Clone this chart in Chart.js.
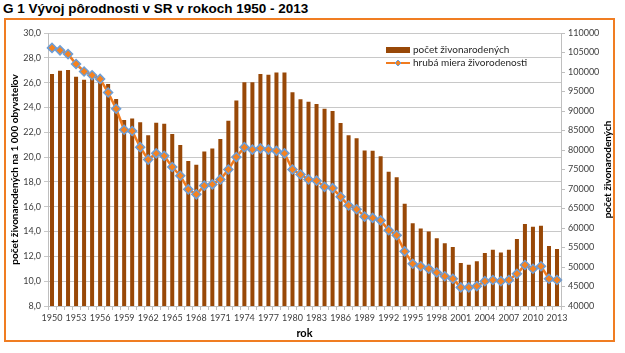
<!DOCTYPE html>
<html>
<head>
<meta charset="utf-8">
<script src="https://cdn.jsdelivr.net/npm/chart.js@4.4.1/dist/chart.umd.min.js"></script>
<style>
  html, body { margin: 0; padding: 0; background: #fff; }
  #page { position: relative; width: 625px; height: 353px; overflow: hidden; }
  #title { position: absolute; left: 3px; top: 1px; font: bold 13.5px 'Liberation Sans', Arial, sans-serif; color: #000; white-space: nowrap; }
  #frame { position: absolute; left: 4px; top: 18px; width: 607px; height: 320px; border: 2px solid #f07d22; }
  #wrap { position: absolute; left: 0; top: 0; width: 625px; height: 353px; }
</style>
</head>
<body>
<div id="page">
  <div id="title">G 1 Vývoj pôrodnosti v SR v rokoch 1950 - 2013</div>
  <div id="frame"></div>
  <div id="wrap"><canvas id="chart"></canvas></div>
</div>
<script>
const years = [
  1950, 1951, 1952, 1953, 1954, 1955, 1956, 1957, 1958, 1959,
  1960, 1961, 1962, 1963, 1964, 1965, 1966, 1967, 1968, 1969,
  1970, 1971, 1972, 1973, 1974, 1975, 1976, 1977, 1978, 1979,
  1980, 1981, 1982, 1983, 1984, 1985, 1986, 1987, 1988, 1989,
  1990, 1991, 1992, 1993, 1994, 1995, 1996, 1997, 1998, 1999,
  2000, 2001, 2002, 2003, 2004, 2005, 2006, 2007, 2008, 2009,
  2010, 2011, 2012, 2013
];

// počet živonarodených (right axis)
const liveBirths = [
  99500, 100300, 100500, 98800, 98000, 99400, 98500, 96900, 93100, 87700,
  88100, 87100, 83800, 87000, 86700, 84100, 81300, 77200, 76200, 79600,
  80400, 82800, 87500, 92700, 97400, 97400, 99500, 99300, 99900, 99900,
  94800, 93000, 92400, 91800, 90600, 90000, 86900, 83800, 83000, 79900,
  79800, 78400, 74400, 73000, 66200, 61200, 59900, 59100, 57400, 56100,
  55100, 51000, 50600, 51500, 53600, 54400, 53700, 54400, 57200, 61000,
  60300, 60600, 55400, 54600
];

// hrubá miera živorodenosti (left axis)
const birthRate = [
  28.8, 28.6, 28.3, 27.5, 26.9, 26.6, 26.3, 25.2, 23.9, 22.2,
  22.1, 20.8, 19.8, 20.3, 20.1, 19.2, 18.5, 17.4, 17.0, 17.7,
  17.8, 18.2, 19.0, 20.0, 20.8, 20.6, 20.7, 20.6, 20.5, 20.3,
  19.0, 18.6, 18.2, 18.1, 17.6, 17.5, 16.8, 16.1, 15.8, 15.2,
  15.1, 14.9, 14.1, 13.7, 12.4, 11.4, 11.2, 11.0, 10.7, 10.4,
  10.2, 9.5, 9.5, 9.6, 10.0, 10.1, 10.0, 10.1, 10.6, 11.3,
  11.0, 11.2, 10.2, 10.1
];

const rateTicks = { min: 8, max: 30, step: 2 };
const birthTicks = { min: 40000, max: 110000, step: 5000 };

const tickFont = { family: 'Lato', size: 9 };
const tickColor = '#404040';
const axisColor = '#bfbfbf';

// right axis title reads bottom-to-top, plus the legend sitting inside the plot
const extras = {
  id: 'extras',
  afterDraw(chart) {
    const { ctx, chartArea } = chart;
    ctx.save();
    ctx.font = 'bold 10px Lato';
    ctx.fillStyle = '#000';
    ctx.textAlign = 'center';
    ctx.textBaseline = 'middle';
    ctx.translate(chart.width - 17, (chartArea.top + chartArea.bottom) / 2);
    ctx.rotate(-Math.PI / 2);
    ctx.fillText('počet živonarodených', 0, 0);
    ctx.restore();

    const lineSet = chart.data.datasets[0];
    const barSet = chart.data.datasets[1];
    const x0 = chartArea.right - 175;
    const y1 = chartArea.top + 17;
    const y2 = chartArea.top + 30;
    ctx.save();
    ctx.fillStyle = barSet.backgroundColor;
    ctx.fillRect(x0, y1 - 3, 24, 6);
    ctx.strokeStyle = lineSet.borderColor;
    ctx.lineWidth = 2;
    ctx.beginPath();
    ctx.moveTo(x0, y2);
    ctx.lineTo(x0 + 24, y2);
    ctx.stroke();
    ctx.fillStyle = lineSet.pointBackgroundColor;
    ctx.strokeStyle = lineSet.pointBorderColor;
    ctx.lineWidth = 1;
    ctx.beginPath();
    ctx.moveTo(x0 + 12, y2 - 3);
    ctx.lineTo(x0 + 15, y2);
    ctx.lineTo(x0 + 12, y2 + 3);
    ctx.lineTo(x0 + 9, y2);
    ctx.closePath();
    ctx.fill();
    ctx.stroke();
    ctx.font = '10px Lato';
    ctx.fillStyle = '#262626';
    ctx.textAlign = 'left';
    ctx.textBaseline = 'middle';
    ctx.fillText(barSet.label, x0 + 27, y1);
    ctx.fillText(lineSet.label, x0 + 27, y2);
    ctx.restore();
  }
};

const ctx = document.getElementById('chart').getContext('2d');

new Chart(ctx, {
  data: {
    labels: years,
    datasets: [
      {
        type: 'line',
        label: 'hrubá miera živorodenosti',
        data: birthRate,
        yAxisID: 'y',
        order: 0,
        borderColor: '#f07b1f',
        borderWidth: 2.5,
        tension: 0,
        pointStyle: 'rectRot',
        pointRadius: 4.5,
        pointBackgroundColor: '#f5821f',
        pointBorderColor: '#6d9ed6',
        pointBorderWidth: 1.5
      },
      {
        type: 'bar',
        label: 'počet živonarodených',
        data: liveBirths,
        yAxisID: 'y1',
        order: 1,
        backgroundColor: '#984807',
        barPercentage: 0.5,
        categoryPercentage: 1
      }
    ]
  },
  options: {
    responsive: true,
    maintainAspectRatio: false,
    animation: false,
    layout: { padding: { top: 33, left: 0, right: 0, bottom: 0 } },
    plugins: {
      legend: { display: false },
      tooltip: { enabled: false }
    },
    scales: {
      x: {
        grid: { drawOnChartArea: false, tickLength: 4, color: axisColor, offset: true },
        border: { color: axisColor },
        ticks: {
          autoSkip: false,
          maxRotation: 0,
          color: tickColor,
          font: tickFont,
          padding: 3,
          callback: function(value, index) {
            return index % 3 === 0 ? String(years[index]) : '';
          }
        },
        title: {
          display: true,
          text: 'rok',
          color: '#000',
          font: { family: 'Lato', size: 11, weight: 'bold' },
          padding: { top: 0, bottom: 13 }
        },
        afterFit: function(scale) { scale.height = 47; }
      },
      y: {
        position: 'left',
        min: rateTicks.min,
        max: rateTicks.max,
        grid: { color: '#c8c8c8', tickLength: 4 },
        border: { color: axisColor },
        ticks: {
          stepSize: rateTicks.step,
          maxTicksLimit: 20,
          color: tickColor,
          font: tickFont,
          padding: 3,
          callback: function(value) {
            return value.toFixed(1).replace('.', ',');
          }
        },
        title: {
          display: true,
          text: 'počet živonarodených na 1 000 obyvateľov',
          color: '#000',
          font: { family: 'Lato', size: 10, weight: 'bold' },
          padding: { top: 9, bottom: 0 }
        },
        afterFit: function(scale) { scale.width = 48; }
      },
      y1: {
        position: 'right',
        min: birthTicks.min,
        max: birthTicks.max,
        grid: { drawOnChartArea: false, tickLength: 4, color: axisColor },
        border: { color: axisColor },
        ticks: {
          stepSize: birthTicks.step,
          maxTicksLimit: 20,
          color: tickColor,
          font: tickFont,
          padding: 3,
          callback: function(value) {
            return String(value);
          }
        },
        afterFit: function(scale) { scale.width = 64; }
      }
    }
  },
  plugins: [extras]
});
</script>
</body>
</html>
